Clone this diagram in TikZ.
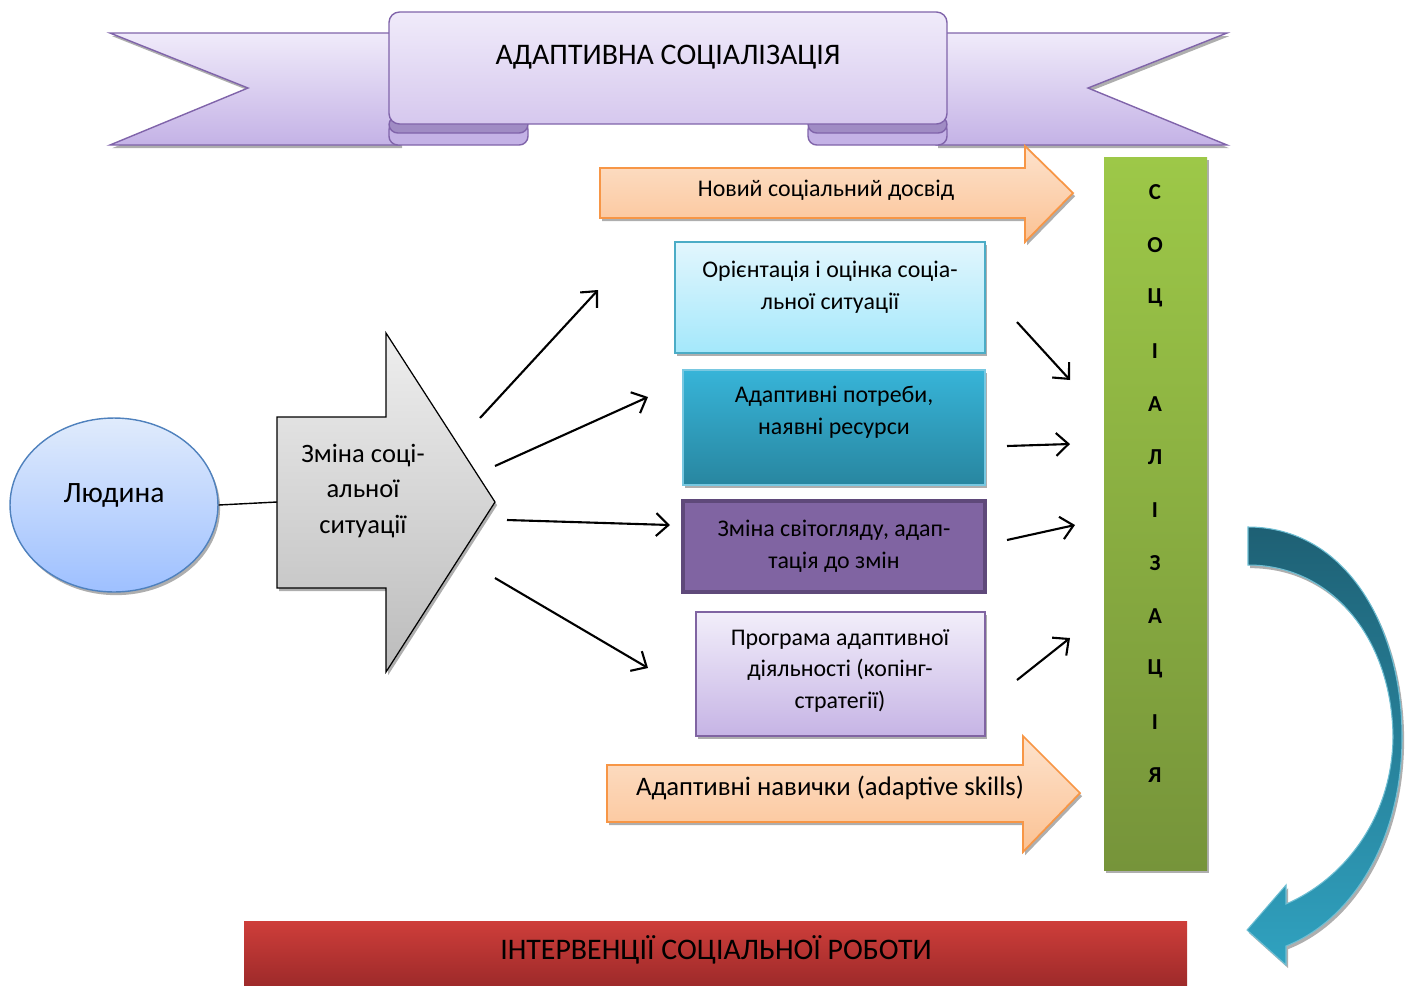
\documentclass[tikz,border=0pt]{standalone}
\usepackage{fontspec}
\setmainfont{Carlito}
\usetikzlibrary{arrows.meta,shadows,shapes.geometric,positioning}
\definecolor{bannerlt}{RGB}{240,235,250}
\definecolor{bannermid}{RGB}{214,200,238}
\definecolor{bannertail}{RGB}{196,178,230}
\definecolor{bannerdk}{RGB}{160,140,196}
\definecolor{bannerline}{RGB}{128,100,170}
\definecolor{persontop}{RGB}{224,235,252}
\definecolor{personbot}{RGB}{158,192,255}
\definecolor{personline}{RGB}{79,129,189}
\definecolor{graytop}{RGB}{238,238,238}
\definecolor{graybot}{RGB}{188,188,188}
\definecolor{orangetop}{RGB}{253,226,204}
\definecolor{orangebot}{RGB}{251,194,148}
\definecolor{orangeline}{RGB}{247,150,70}
\definecolor{orienttop}{RGB}{226,246,253}
\definecolor{orientbot}{RGB}{164,232,251}
\definecolor{orientline}{RGB}{75,172,198}
\definecolor{needtop}{RGB}{55,180,216}
\definecolor{needbot}{RGB}{40,134,160}
\definecolor{needline}{RGB}{120,200,225}
\definecolor{viewfill}{RGB}{128,100,162}
\definecolor{viewline}{RGB}{95,73,122}
\definecolor{progtop}{RGB}{242,238,250}
\definecolor{progbot}{RGB}{198,180,229}
\definecolor{progline}{RGB}{128,100,162}
\definecolor{greentop}{RGB}{157,200,72}
\definecolor{greenbot}{RGB}{118,148,58}
\definecolor{tealtop}{RGB}{30,96,116}
\definecolor{tealbot}{RGB}{48,162,192}
\definecolor{redtop}{RGB}{206,62,58}
\definecolor{redbot}{RGB}{158,42,42}

\begin{document}
\begin{tikzpicture}[x=0.02cm,y=-0.02cm,
  >={Straight Barb[length=7pt,width=13pt]},
  shadowed/.style={drop shadow={shadow xshift=1.2pt,shadow yshift=-1.8pt,fill=black!45,opacity=0.7}},
  boxtext/.style={font=\fontsize{13.6}{18}\selectfont,align=center},
  flow/.style={->,line width=1.2pt},
  letter/.style={font=\fontsize{13}{13}\selectfont\bfseries}]

\useasboundingbox (0,0) rectangle (1413,985);

%% ── banner ───────────────────────────────────────────────────────────────────
\shade[top color=bannerlt,bottom color=bannertail,draw=bannerline,line width=0.8pt,shadowed]
  (110,33) -- (400,33) -- (400,145) -- (110,145) -- (248,88) -- cycle;
\shade[top color=bannerlt,bottom color=bannertail,draw=bannerline,line width=0.8pt,shadowed]
  (1227,33) -- (936,33) -- (936,145) -- (1227,145) -- (1088,88) -- cycle;

%% folds under the front panel
\fill[bannertail,draw=bannerline,line width=0.8pt,rounded corners=5pt] (389,121) rectangle (528,145);
\fill[bannerdk,draw=bannerline,line width=0.8pt,rounded corners=5pt] (389,116) rectangle (528,133);
\fill[bannertail,draw=bannerline,line width=0.8pt,rounded corners=5pt] (808,121) rectangle (947,145);
\fill[bannerdk,draw=bannerline,line width=0.8pt,rounded corners=5pt] (808,116) rectangle (947,133);

\shade[top color=bannerlt,bottom color=bannermid,draw=bannerline,line width=0.8pt,rounded corners=6pt]
  (389,12) rectangle (947,124);
\node[font=\fontsize{17}{17}\selectfont] (title) at (668,57) {АДАПТИВНА СОЦІАЛІЗАЦІЯ};

%% ── person and change of situation ───────────────────────────────────────────
\node[ellipse,draw=personline,line width=0.8pt,top color=persontop,bottom color=personbot,
  shadowed,minimum width=4.16cm,minimum height=3.48cm,inner sep=0pt] (person) at (114,505) {};
\node[font=\fontsize{16.8}{18}\selectfont] (personlbl) at (114,495) {Людина};

\shade[top color=graytop,bottom color=graybot,draw=black,line width=0.7pt,shadowed]
  (277,417) -- (386,417) -- (386,333) -- (495,502) -- (386,672) -- (386,588) -- (277,588) -- cycle;
\coordinate (chgin) at (277,502);
\node[font=\fontsize{15.1}{20}\selectfont,align=center] (change) at (363,491)
  {Зміна соці-\\альної\\ситуації};

\draw[line width=0.8pt] (person.east) -- (chgin);

%% ── orange arrows ────────────────────────────────────────────────────────────
\shade[top color=orangetop,bottom color=orangebot,draw=orangeline,line width=1pt,shadowed]
  (600,168) -- (1025,168) -- (1025,146) -- (1073,193) -- (1025,242) -- (1025,218) -- (600,218) -- cycle;
\node[boxtext] (newexp) at (826,190) {Новий соціальний досвід};

\shade[top color=orangetop,bottom color=orangebot,draw=orangeline,line width=1pt,shadowed]
  (607,765) -- (1023,765) -- (1023,736) -- (1080,793) -- (1023,852) -- (1023,822) -- (607,822) -- cycle;
\node[boxtext,font=\fontsize{15.2}{18}\selectfont] (skills) at (830,788)
  {Адаптивні навички (adaptive skills)};

%% ── middle boxes ─────────────────────────────────────────────────────────────
\shade[top color=orienttop,bottom color=orientbot,draw=orientline,line width=1pt,shadowed]
  (675,242) rectangle (985,353);
\node[boxtext] (orient) at (830,287) {Орієнтація і оцінка соціа-\\льної ситуації};

\shade[top color=needtop,bottom color=needbot,draw=needline,line width=0.8pt,shadowed]
  (683,370) rectangle (985,485);
\node[boxtext] (needs) at (834,412) {Адаптивні потреби,\\наявні ресурси};

\fill[viewfill,draw=viewline,line width=2.5pt] (683,501) rectangle (985,592);
\node[boxtext] (view) at (834,546) {Зміна світогляду, адап-\\тація до змін};

\shade[top color=progtop,bottom color=progbot,draw=progline,line width=1pt,shadowed]
  (696,612) rectangle (985,736);
\node[boxtext] (prog) at (840,671) {Програма адаптивної\\діяльності (копінг-\\стратегії)};

%% ── connectors ───────────────────────────────────────────────────────────────
\coordinate (o1) at (480,418);  \coordinate (i1) at (598,290);
\coordinate (o2) at (495,466);  \coordinate (i2) at (648,397);
\coordinate (o3) at (507,520);  \coordinate (i3) at (670,525);
\coordinate (o4) at (495,578);  \coordinate (i4) at (648,668);
\draw[flow] (o1) -- (i1);
\draw[flow] (o2) -- (i2);
\draw[flow] (o3) -- (i3);
\draw[flow] (o4) -- (i4);

\coordinate (r1) at (1017,322); \coordinate (s1) at (1070,380);
\coordinate (r2) at (1007,446); \coordinate (s2) at (1070,444);
\coordinate (r3) at (1007,540); \coordinate (s3) at (1075,525);
\coordinate (r4) at (1017,680); \coordinate (s4) at (1070,638);
\draw[flow] (r1) -- (s1);
\draw[flow] (r2) -- (s2);
\draw[flow] (r3) -- (s3);
\draw[flow] (r4) -- (s4);

%% ── socialisation bar ────────────────────────────────────────────────────────
\shade[top color=greentop,bottom color=greenbot,shadowed] (1104,157) rectangle (1207,870);
\foreach \ch [count=\i from 0] in {С,О,Ц,І,А,Л,І,З,А,Ц,І,Я}
  \node[letter] (soc\i) at (1155,{192+53*\i}) {\ch};

%% ── curved return arrow ──────────────────────────────────────────────────────
\shade[top color=tealtop,bottom color=tealbot,draw=tealbot!70!white,line width=0.6pt,shadowed]
  (1248,527) .. controls (1345,527) and (1402,625) .. (1402,737)
  .. controls (1402,840) and (1352,920) .. (1286,946)
  -- (1286,965) -- (1247,930) -- (1286,885) -- (1286,904)
  .. controls (1342,880) and (1392,820) .. (1393,737)
  .. controls (1392,640) and (1333,565) .. (1248,565) -- cycle;

%% ── social work interventions ────────────────────────────────────────────────
\shade[top color=redtop,bottom color=redbot] (244,921) rectangle (1187,985);
\node[font=\fontsize{17}{17}\selectfont] (interv) at (716,950) {ІНТЕРВЕНЦІЇ СОЦІАЛЬНОЇ РОБОТИ};

\end{tikzpicture}
\end{document}
